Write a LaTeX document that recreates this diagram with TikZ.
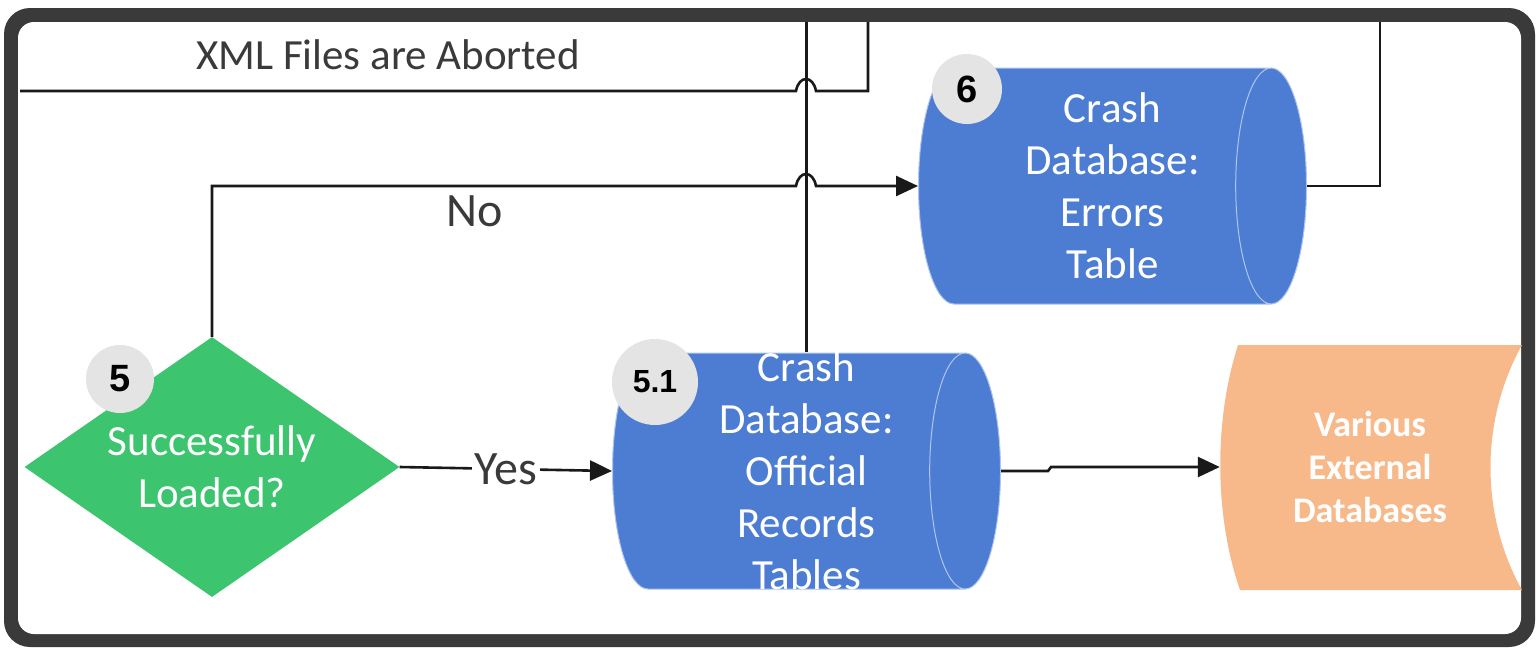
\documentclass[tikz,border=0pt]{standalone}
\usepackage{fontspec}
\setmainfont{Carlito}
\newfontfamily\badgefont{Liberation Sans}
\usetikzlibrary{shapes.geometric,arrows.meta,calc}
\definecolor{framegray}{HTML}{3A3A3A}
\definecolor{dbblue}{HTML}{4D7DD3}
\definecolor{okgreen}{HTML}{3CC46E}
\definecolor{extpeach}{HTML}{F8B98A}
\definecolor{badgegray}{HTML}{E4E4E4}
\definecolor{txtgray}{HTML}{3A3A3A}

\begin{document}
\begin{tikzpicture}[x=1pt,y=-1pt,
  conn/.style={line width=2.6pt,black!90},
  arr/.style={conn,-{Triangle[length=22pt,width=20pt]}},
  db/.style={cylinder,shape border rotate=0,aspect=0.3,minimum height=388pt,
    inner xsep=0pt,inner ysep=118pt,anchor=west,
    cylinder uses custom fill,cylinder body fill=dbblue,cylinder end fill=dbblue,
    draw=white!55!dbblue,line width=1pt},
  dbtext/.style={text=white,align=center,font=\fontsize{43}{52}\selectfont},
  badge/.style={circle,fill=badgegray,text=black,inner sep=0pt,minimum size=68pt,
    font=\badgefont\bfseries\fontsize{38}{38}\selectfont},
  lbl/.style={text=txtgray,font=\fontsize{48}{48}\selectfont}]
  \useasboundingbox (0,0) rectangle (1537,648);
  % frame
  \fill[framegray,rounded corners=26pt] (4,8) rectangle (1535,647);
  \fill[white,rounded corners=16pt] (18,22) rectangle (1521,634);
  \node[lbl,font=\fontsize{43}{43}\selectfont] (xml) at (388,55) {XML Files are Aborted};
  % shapes
  \node[diamond,fill=okgreen,aspect=1.44,inner sep=0pt,minimum width=375pt,minimum height=260pt,
    text=white,align=center,font=\fontsize{43}{52}\selectfont] (d5) at (212,467) {Successfully\\Loaded?};
  \node[db] (rec) at (612,471) {};
  \node[db] (err) at (918,186) {};
  \fill[extpeach] (1238,345) -- (1522,345) .. controls (1480,420) and (1480,515) .. (1522,590)
    -- (1240,590) .. controls (1214,515) and (1214,420) .. (1238,345);
  \node[minimum width=300pt,minimum height=245pt,text=white,align=center,
    font=\bfseries\fontsize{36}{43}\selectfont] (ext) at (1370,467) {Various\\External\\Databases};
  \coordinate (recmid) at ($(rec.west)!0.5!(rec.east)$);
  \coordinate (errmid) at ($(err.west)!0.5!(err.east)$);
  % loose ends leaving the frame
  \coordinate (abtop) at (868,22);
  \coordinate (ableft) at (20,91);
  \coordinate (rectop) at (recmid |- abtop);
  \coordinate (errtop) at (1380,22);
  \draw[conn] (abtop) -- (868,91) -- (816,91) .. controls (813,75) and (799,75) .. (796,91) -- (ableft);
  \draw[conn] (recmid |- rec.north) -- (rectop);
  \draw[conn] (err.east) -| (errtop);
  % branches
  \draw[arr] (d5.north) |- (796,186) .. controls (799,170) and (813,170) .. (816,186) -- (err.west);
  \node[lbl,below=6pt] (no) at (475,186) {No};
  \draw[arr] (d5.east) -- node[lbl,fill=white,inner sep=3pt] (yes) {Yes} (rec.west);
  \draw[arr] (rec.east) -- (1048,471) -- (1051,467) -- (ext.west);
  % table text
  \node[dbtext] (rectxt) at (recmid) {Crash\\Database:\\Official\\Records\\Tables};
  \node[dbtext] (errtxt) at (errmid) {Crash\\Database:\\Errors\\Table};
  % step numbers
  \node[badge] (b5) at (120,379) {5};
  \node[badge,minimum size=86pt,font=\badgefont\bfseries\fontsize{32}{32}\selectfont] (b51) at (655,382) {5.1};
  \node[badge,minimum size=70pt] (b6) at (967,89) {6};
\end{tikzpicture}
\end{document}
